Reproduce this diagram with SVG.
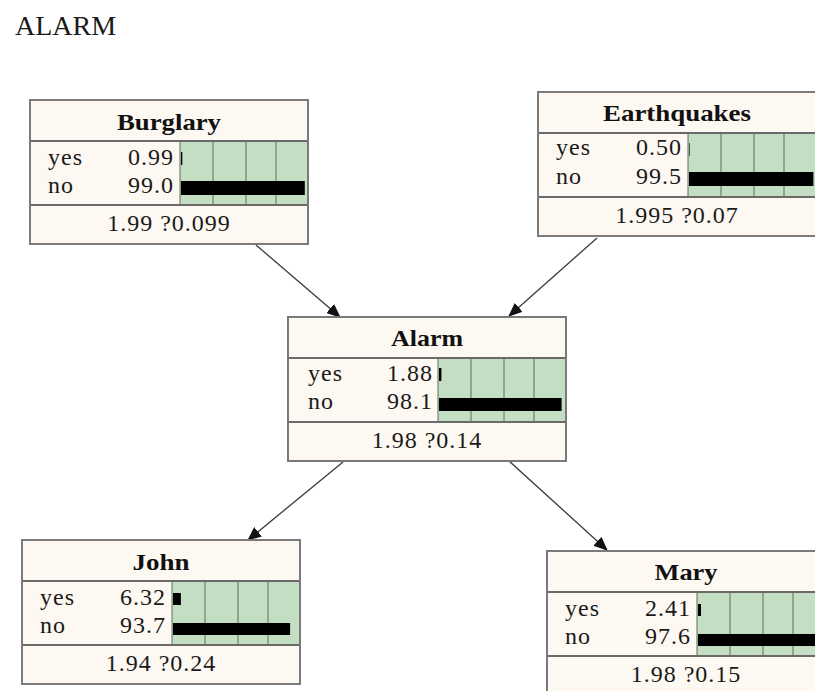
<svg xmlns="http://www.w3.org/2000/svg" width="815" height="691" viewBox="0 0 815 691">
  <style>
    text { font-family: "Liberation Serif", "Times New Roman", serif; fill: #1a1a1a; }
    .heading { font-size: 28px; }
    .title { font-size: 23px; font-weight: bold; text-anchor: middle; fill: #111; }
    .row { font-size: 24px; letter-spacing: 1px; }
    .num { font-size: 24px; letter-spacing: 1px; text-anchor: end; }
    .foot { font-size: 24px; letter-spacing: 1px; text-anchor: middle; }
    .box { fill: #fdf8f1; stroke: #7a7a7a; stroke-width: 2; }
    .sep { stroke: #6a6a6a; stroke-width: 2; }
    .chart { fill: #c3dec3; stroke: none; }
    .grid { stroke: #5b6f5b; stroke-width: 1; }
    .bar { fill: #000; }
    .edge { stroke: #3a3a3a; stroke-width: 1.3; fill: none; marker-end: url(#arrow); }
  </style>
  <defs>
    <marker id="arrow" markerUnits="userSpaceOnUse" markerWidth="14" markerHeight="12" viewBox="0 0 14 12" refX="13" refY="6" orient="auto">
      <path d="M0,0 L14,6 L0,12 Z" fill="#111"/>
    </marker>
    <!-- shared node frame: title band, bar chart area, footer -->
    <g id="frame">
      <rect class="box" x="0" y="0" width="278" height="144"/>
      <rect class="chart" x="150" y="41" width="128" height="64"/>
      <line class="grid" x1="150" y1="41" x2="150" y2="105"/>
      <line class="grid" x1="183" y1="41" x2="183" y2="105"/>
      <line class="grid" x1="216" y1="41" x2="216" y2="105"/>
      <line class="grid" x1="246" y1="41" x2="246" y2="105"/>
      <line class="sep" x1="0" y1="41" x2="278" y2="41"/>
      <line class="sep" x1="0" y1="105" x2="278" y2="105"/>
      <rect x="0" y="0" width="278" height="144" fill="none" stroke="#7a7a7a" stroke-width="2"/>
    </g>
  </defs>

  <text class="heading" x="15" y="35">ALARM</text>

  <g id="connectors">
    <line class="edge" x1="256" y1="245" x2="340" y2="317"/>
    <line class="edge" x1="597" y1="238" x2="509" y2="316"/>
    <line class="edge" x1="343" y1="462" x2="248" y2="540"/>
    <line class="edge" x1="508" y1="460" x2="607" y2="550"/>
  </g>

  <g id="burglary" transform="translate(30,100)">
    <use href="#frame"/>
    <text class="title" x="139" y="30" textLength="104" lengthAdjust="spacingAndGlyphs">Burglary</text>
    <text class="row" x="18" y="65">yes</text>
    <text class="num" x="144" y="65">0.99</text>
    <text class="row" x="18" y="93">no</text>
    <text class="num" x="144" y="93">99.0</text>
    <rect class="bar" x="151" y="52" width="1.3" height="13"/>
    <rect class="bar" x="151" y="81" width="123.8" height="14"/>
    <text class="foot" x="139" y="131">1.99 ?0.099</text>
  </g>

  <g id="earthquakes" transform="translate(538,92)">
    <use href="#frame"/>
    <text class="title" x="139" y="29" textLength="148" lengthAdjust="spacingAndGlyphs">Earthquakes</text>
    <text class="row" x="18" y="63">yes</text>
    <text class="num" x="144" y="63">0.50</text>
    <text class="row" x="18" y="92">no</text>
    <text class="num" x="144" y="92">99.5</text>
    <rect class="bar" x="151" y="51" width="0.6" height="13"/>
    <rect class="bar" x="151" y="80" width="124.4" height="14"/>
    <text class="foot" x="139" y="131">1.995 ?0.07</text>
  </g>

  <g id="alarm" transform="translate(288,317)">
    <use href="#frame"/>
    <text class="title" x="139" y="29" textLength="72" lengthAdjust="spacingAndGlyphs">Alarm</text>
    <text class="row" x="20" y="64">yes</text>
    <text class="num" x="145" y="64">1.88</text>
    <text class="row" x="20" y="92">no</text>
    <text class="num" x="145" y="92">98.1</text>
    <rect class="bar" x="151" y="51" width="2.4" height="13"/>
    <rect class="bar" x="151" y="81" width="122.6" height="13"/>
    <text class="foot" x="139" y="131">1.98 ?0.14</text>
  </g>

  <g id="john" transform="translate(22,540)">
    <use href="#frame"/>
    <text class="title" x="139" y="30" textLength="57" lengthAdjust="spacingAndGlyphs">John</text>
    <text class="row" x="18" y="65">yes</text>
    <text class="num" x="144" y="65">6.32</text>
    <text class="row" x="18" y="93">no</text>
    <text class="num" x="144" y="93">93.7</text>
    <rect class="bar" x="151" y="53" width="7.9" height="12"/>
    <rect class="bar" x="151" y="83" width="117.1" height="12"/>
    <text class="foot" x="139" y="131">1.94 ?0.24</text>
  </g>

  <g id="mary" transform="translate(547,551)">
    <use href="#frame"/>
    <text class="title" x="139" y="29" textLength="63" lengthAdjust="spacingAndGlyphs">Mary</text>
    <text class="row" x="18" y="65">yes</text>
    <text class="num" x="144" y="65">2.41</text>
    <text class="row" x="18" y="93">no</text>
    <text class="num" x="144" y="93">97.6</text>
    <rect class="bar" x="151" y="53" width="3" height="12"/>
    <rect class="bar" x="151" y="83" width="122" height="12"/>
    <text class="foot" x="139" y="131">1.98 ?0.15</text>
  </g>
</svg>
